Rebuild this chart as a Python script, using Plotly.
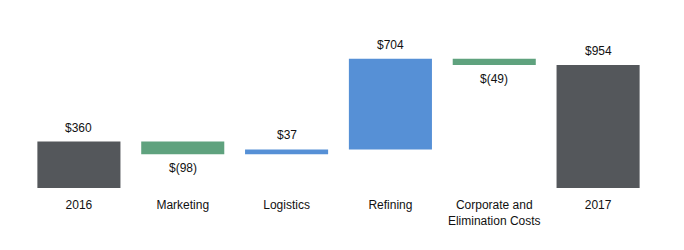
import plotly.graph_objects as go

categories = ["2016", "Marketing", "Logistics", "Refining", "Corporate and<br>Elimination Costs", "2017"]
values = [360, -98, 37, 704, -49, 954]
is_total = [True, False, False, False, False, True]
labels = ["$360", "$(98)", "$37", "$704", "$(49)", "$954"]

GREY = "#54575B"
GREEN = "#5FA27E"
BLUE = "#5690D6"

bases, heights, colors, tops, bottoms = [], [], [], [], []
running = 0
for v, tot in zip(values, is_total):
    if tot:
        b, h, c = 0, v, GREY
        running = v
    else:
        if v >= 0:
            b, h, c = running, v, BLUE
        else:
            b, h, c = running + v, -v, GREEN
        running += v
    bases.append(b)
    heights.append(h)
    colors.append(c)
    tops.append(b + h)
    bottoms.append(b)

fig = go.Figure(go.Bar(x=categories, y=heights, base=bases, marker=dict(color=colors, line=dict(width=0)),
                       hoverinfo="skip"))

for i, (v, lab, t, bt) in enumerate(zip(values, labels, tops, bottoms)):
    if v >= 0:
        fig.add_annotation(x=i, y=t, text=lab, showarrow=False, yanchor="middle", yshift=14,
                           font=dict(size=12, color="#111111"))
    else:
        fig.add_annotation(x=i, y=bt, text=lab, showarrow=False, yanchor="middle", yshift=-14,
                           font=dict(size=12, color="#111111"))

fig.update_layout(
    width=684, height=250,
    margin=dict(l=27, r=34, t=20, b=62),
    paper_bgcolor="white", plot_bgcolor="white",
    bargap=0.2, showlegend=False,
    font=dict(family="Liberation Sans, Arial", size=12, color="#111111"),
    xaxis=dict(type="category", range=[-0.5, 5.5], showline=False, showgrid=False, zeroline=False,
               ticks="", tickfont=dict(size=12), ticklabelstandoff=8),
    yaxis=dict(range=[0, 1303], visible=False, showgrid=False, zeroline=False),
)

fig.write_html("out.html")
